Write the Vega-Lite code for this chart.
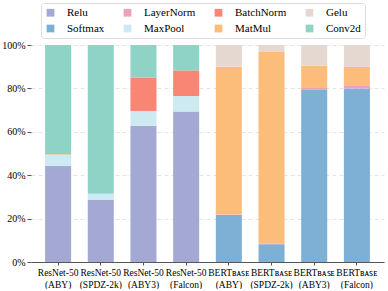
{
  "$schema": "https://vega.github.io/schema/vega-lite/v6.json",
  "width": 353,
  "height": 217,
  "padding": {"left": 1, "right": 3, "top": 2, "bottom": 0},
  "config": {
    "font": "Liberation Serif, Times New Roman, serif",
    "view": {"stroke": null}
  },
  "data": {
    "values": [
      {"model": "ResNet-50 (ABY)", "op": "Relu", "k": 1, "v": 44.2},
      {"model": "ResNet-50 (ABY)", "op": "MaxPool", "k": 3, "v": 5.0},
      {"model": "ResNet-50 (ABY)", "op": "MatMul", "k": 6, "v": 0.4},
      {"model": "ResNet-50 (ABY)", "op": "Conv2d", "k": 8, "v": 50.4},
      {"model": "ResNet-50 (SPDZ-2k)", "op": "Relu", "k": 1, "v": 28.6},
      {"model": "ResNet-50 (SPDZ-2k)", "op": "MaxPool", "k": 3, "v": 2.7},
      {"model": "ResNet-50 (SPDZ-2k)", "op": "MatMul", "k": 6, "v": 0.4},
      {"model": "ResNet-50 (SPDZ-2k)", "op": "Conv2d", "k": 8, "v": 68.3},
      {"model": "ResNet-50 (ABY3)", "op": "Relu", "k": 1, "v": 62.8},
      {"model": "ResNet-50 (ABY3)", "op": "MaxPool", "k": 3, "v": 6.8},
      {"model": "ResNet-50 (ABY3)", "op": "BatchNorm", "k": 5, "v": 15.3},
      {"model": "ResNet-50 (ABY3)", "op": "Conv2d", "k": 8, "v": 15.1},
      {"model": "ResNet-50 (Falcon)", "op": "Relu", "k": 1, "v": 69.3},
      {"model": "ResNet-50 (Falcon)", "op": "MaxPool", "k": 3, "v": 7.2},
      {"model": "ResNet-50 (Falcon)", "op": "BatchNorm", "k": 5, "v": 11.8},
      {"model": "ResNet-50 (Falcon)", "op": "Conv2d", "k": 8, "v": 11.7},
      {"model": "BERTBASE (ABY)", "op": "Softmax", "k": 2, "v": 21.7},
      {"model": "BERTBASE (ABY)", "op": "LayerNorm", "k": 4, "v": 0.2},
      {"model": "BERTBASE (ABY)", "op": "MatMul", "k": 6, "v": 68.1},
      {"model": "BERTBASE (ABY)", "op": "Gelu", "k": 7, "v": 10.0},
      {"model": "BERTBASE (SPDZ-2k)", "op": "Softmax", "k": 2, "v": 8.2},
      {"model": "BERTBASE (SPDZ-2k)", "op": "LayerNorm", "k": 4, "v": 0.4},
      {"model": "BERTBASE (SPDZ-2k)", "op": "MatMul", "k": 6, "v": 88.2},
      {"model": "BERTBASE (SPDZ-2k)", "op": "Gelu", "k": 7, "v": 3.2},
      {"model": "BERTBASE (ABY3)", "op": "Softmax", "k": 2, "v": 79.3},
      {"model": "BERTBASE (ABY3)", "op": "LayerNorm", "k": 4, "v": 0.9},
      {"model": "BERTBASE (ABY3)", "op": "MatMul", "k": 6, "v": 10.3},
      {"model": "BERTBASE (ABY3)", "op": "Gelu", "k": 7, "v": 9.5},
      {"model": "BERTBASE (Falcon)", "op": "Softmax", "k": 2, "v": 80.0},
      {"model": "BERTBASE (Falcon)", "op": "LayerNorm", "k": 4, "v": 1.1},
      {"model": "BERTBASE (Falcon)", "op": "MatMul", "k": 6, "v": 8.8},
      {"model": "BERTBASE (Falcon)", "op": "Gelu", "k": 7, "v": 10.1}
    ]
  },
  "mark": {"type": "bar"},
  "encoding": {
    "x": {
      "field": "model",
      "type": "nominal",
      "sort": null,
      "scale": {"paddingInner": 0.39, "paddingOuter": 0.33},
      "axis": {
        "title": null,
        "labelAngle": 0,
        "labelFont": "Liberation Serif, Times New Roman, serif",
        "labelColor": "#000",
        "labelExpr": "split(replace(datum.label, 'BERTBASE', 'BERTʙᴀꜱᴇ'), ' ')",
        "labelLineHeight": 12,
        "labelFontSize": 9.5,
        "labelBaseline": "top",
        "domainColor": "#555",
        "tickColor": "#555",
        "tickSize": 3,
        "labelPadding": 2
      }
    },
    "y": {
      "field": "v",
      "type": "quantitative",
      "stack": "normalize",
      "axis": {
        "title": null,
        "format": "%",
        "values": [0, 0.2, 0.4, 0.6, 0.8, 1.0],
        "grid": true,
        "gridDash": [4, 3],
        "gridColor": "#e4e4e4",
        "domain": false,
        "tickColor": "#555",
        "tickSize": 4,
        "labelPadding": 2,
        "labelFont": "Liberation Serif, Times New Roman, serif",
        "labelColor": "#000",
        "labelFontSize": 10
      }
    },
    "order": {"field": "k", "type": "quantitative"},
    "color": {
      "field": "op",
      "type": "nominal",
      "scale": {
        "domain": ["Relu", "LayerNorm", "BatchNorm", "Gelu", "Softmax", "MaxPool", "MatMul", "Conv2d"],
        "range": ["#a4a9d3", "#f0a0b8", "#f98574", "#e5d8d0", "#7eb0d6", "#cde9f1", "#fdbd7a", "#8fd2c6"]
      },
      "legend": {
        "title": null,
        "orient": "none",
        "legendX": 10,
        "legendY": -42,
        "direction": "horizontal",
        "columns": 4,
        "symbolType": "square",
        "symbolSize": 60,
        "symbolStrokeWidth": 0,
        "columnPadding": 17,
        "rowPadding": 4,
        "labelOffset": 11,
        "labelFont": "Liberation Serif, Times New Roman, serif",
        "labelFontSize": 11,
        "labelColor": "#000",
        "strokeColor": "#ddd",
        "padding": 4,
        "cornerRadius": 3
      }
    }
  }
}
